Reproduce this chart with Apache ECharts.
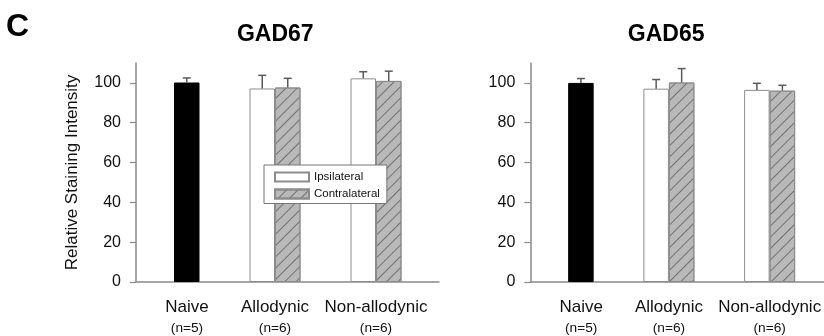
<!DOCTYPE html>
<html><head><meta charset="utf-8">
<script src="https://cdn.jsdelivr.net/npm/echarts@6/dist/echarts.min.js"></script>
<style>html,body{margin:0;padding:0;background:#fff}#c{width:824px;height:336px}</style>
</head><body><div id="c"></div>
<script>
// ---- data ----
const categories = ['Naive', 'Allodynic', 'Non-allodynic'];
const nLabels = ['(n=5)', '(n=6)', '(n=6)'];
const yTicks = [0, 20, 40, 60, 80, 100];
const legendNames = ['Ipsilateral', 'Contralateral'];

const gad67Naive = [100.2, null, null];
const gad67NaiveErr = [2.3, null, null];
const gad67Ipsi = [null, 97.2, 102.3];
const gad67IpsiErr = [null, 6.6, 3.3];
const gad67Contra = [null, 97.7, 101.0];
const gad67ContraErr = [null, 4.6, 4.9];

const gad65Naive = [100.0, null, null];
const gad65NaiveErr = [2.2, null, null];
const gad65Ipsi = [null, 97.1, 96.5];
const gad65IpsiErr = [null, 4.6, 3.3];
const gad65Contra = [null, 100.2, 96.1];
const gad65ContraErr = [null, 7.0, 2.7];

// ---- styles ----
const FONT = '"Liberation Sans", Arial, sans-serif';
const AXIS = '#8a8a8a';
const BW = 25.5;
const hatch = {
  symbol: 'rect', symbolSize: 1,
  dashArrayX: [1, 0], dashArrayY: [1, 6.5],
  rotation: -Math.PI / 4, color: '#707070'
};
const ipsiStyle = { color: '#ffffff', borderColor: '#8c8c8c', borderWidth: 1 };
const contraStyle = { color: '#b9b9b9', borderColor: '#8c8c8c', borderWidth: 1, decal: hatch };
const naiveStyle = { color: '#000000', borderColor: '#000000', borderWidth: 1 };

const chart = echarts.init(document.getElementById('c'), null, { renderer: 'canvas' });

function errData(vals, errs) {
  const out = [];
  vals.forEach((v, i) => { if (v != null && errs[i] != null) out.push([i, v, errs[i]]); });
  return out;
}
function errSeries(vals, errs, axisIdx, dx) {
  return {
    type: 'custom', xAxisIndex: axisIdx, yAxisIndex: axisIdx, z: 3, silent: true,
    data: errData(vals, errs),
    renderItem: function (params, api) {
      const x = api.value(0), v = api.value(1), e = api.value(2);
      const p0 = api.coord([x, v]);
      const p1 = api.coord([x, v + e]);
      const cx = p0[0] + dx;
      const st = { stroke: '#5a5a5a', lineWidth: 1.5 };
      return { type: 'group', children: [
        { type: 'line', shape: { x1: cx, y1: p0[1], x2: cx, y2: p1[1] }, style: st },
        { type: 'line', shape: { x1: cx - 4, y1: p1[1], x2: cx + 4, y2: p1[1] }, style: st }
      ]};
    }
  };
}

const catLabel = {
  interval: 0, margin: 15, color: '#111', fontFamily: FONT,
  formatter: function (val, idx) {
    const k = idx === 0 ? 'n' : '';
    return '{a' + k + '|' + val + '}\n{b' + k + '|' + nLabels[idx] + '}';
  },
  rich: {
    a: { fontSize: 17, lineHeight: 21, fontFamily: FONT, color: '#111' },
    b: { fontSize: 13.7, lineHeight: 21, fontFamily: FONT, color: '#111' },
    an: { fontSize: 17, lineHeight: 21, fontFamily: FONT, color: '#111', padding: [0, 0, 0, 26] },
    bn: { fontSize: 13.7, lineHeight: 21, fontFamily: FONT, color: '#111', padding: [0, 0, 0, 26] }
  }
};

function axisGridX(gi) {
  return { gridIndex: gi, type: 'value', min: 0, max: 1,
    axisLine: { show: true, lineStyle: { color: AXIS, width: 1.5 } },
    axisTick: { show: false }, axisLabel: { show: false }, splitLine: { show: false } };
}
function axisGridY(gi, name) {
  return { gridIndex: gi, type: 'value', min: 0, max: 110,
    name: name, nameLocation: 'middle', nameGap: 55,
    nameTextStyle: { fontSize: 17, fontFamily: FONT, color: '#111' },
    axisLine: { show: true, lineStyle: { color: AXIS, width: 1.5 } },
    axisTick: { show: true, length: 6, customValues: yTicks, lineStyle: { color: AXIS, width: 1.2 } },
    axisLabel: { customValues: yTicks, margin: 15, fontSize: 16, fontFamily: FONT, color: '#111' },
    splitLine: { show: false } };
}
function barGridX(gi) {
  return { gridIndex: gi, type: 'category', data: categories,
    axisLine: { show: false }, axisTick: { show: false }, axisLabel: catLabel };
}
function barGridY(gi) {
  return { gridIndex: gi, type: 'value', min: 0, max: 110, show: false };
}

function barSeries(name, data, style, axisIdx, stack) {
  return { name: name, type: 'bar', xAxisIndex: axisIdx, yAxisIndex: axisIdx,
    data: data, stack: stack, barWidth: BW, barGap: 0, itemStyle: style, silent: true };
}

const option = {
  animation: false,
  textStyle: { fontFamily: FONT },
  grid: [
    { left: 136, top: 63, width: 303, height: 219 },
    { left: 123.5, top: 63, width: 303, height: 219 },
    { left: 530.3, top: 63, width: 310, height: 219 },
    { left: 517.8, top: 63, width: 303, height: 219 }
  ],
  xAxis: [axisGridX(0), barGridX(1), axisGridX(2), barGridX(3)],
  yAxis: [axisGridY(0, 'Relative Staining Intensity'), barGridY(1), axisGridY(2, ''), barGridY(3)],
  legend: {
    data: legendNames, orient: 'vertical', left: 264, top: 165,
    itemWidth: 34, itemHeight: 9, itemGap: 5,
    padding: [6, 7, 3.5, 10], borderColor: '#777', borderWidth: 1,
    backgroundColor: '#fff', selectedMode: false, icon: 'rect',
    textStyle: { fontSize: 11.5, fontFamily: FONT, color: '#111' }
  },
  graphic: [
    { type: 'text', left: 6, top: 11, style: { text: 'C', font: 'bold 32px ' + FONT, fill: '#000' } },
    { type: 'text', x: 275.3, y: 35, style: { text: 'GAD67', font: 'bold 23px ' + FONT, fill: '#000', align: 'center', verticalAlign: 'middle' } },
    { type: 'text', x: 666.2, y: 35, style: { text: 'GAD65', font: 'bold 23px ' + FONT, fill: '#000', align: 'center', verticalAlign: 'middle' } }
  ],
  series: [
    barSeries('Ipsilateral', gad67Ipsi, ipsiStyle, 1, 'L1'),
    barSeries('Contralateral', gad67Contra, contraStyle, 1, 'R1'),
    barSeries('Naive', gad67Naive, naiveStyle, 1, 'R1'),
    errSeries(gad67Ipsi, gad67IpsiErr, 1, -BW / 2),
    errSeries(gad67Contra, gad67ContraErr, 1, BW / 2),
    errSeries(gad67Naive, gad67NaiveErr, 1, BW / 2),
    barSeries('Ipsilateral', gad65Ipsi, ipsiStyle, 3, 'L2'),
    barSeries('Contralateral', gad65Contra, contraStyle, 3, 'R2'),
    barSeries('Naive', gad65Naive, naiveStyle, 3, 'R2'),
    errSeries(gad65Ipsi, gad65IpsiErr, 3, -BW / 2),
    errSeries(gad65Contra, gad65ContraErr, 3, BW / 2),
    errSeries(gad65Naive, gad65NaiveErr, 3, BW / 2)
  ]
};
chart.setOption(option);
</script></body></html>
